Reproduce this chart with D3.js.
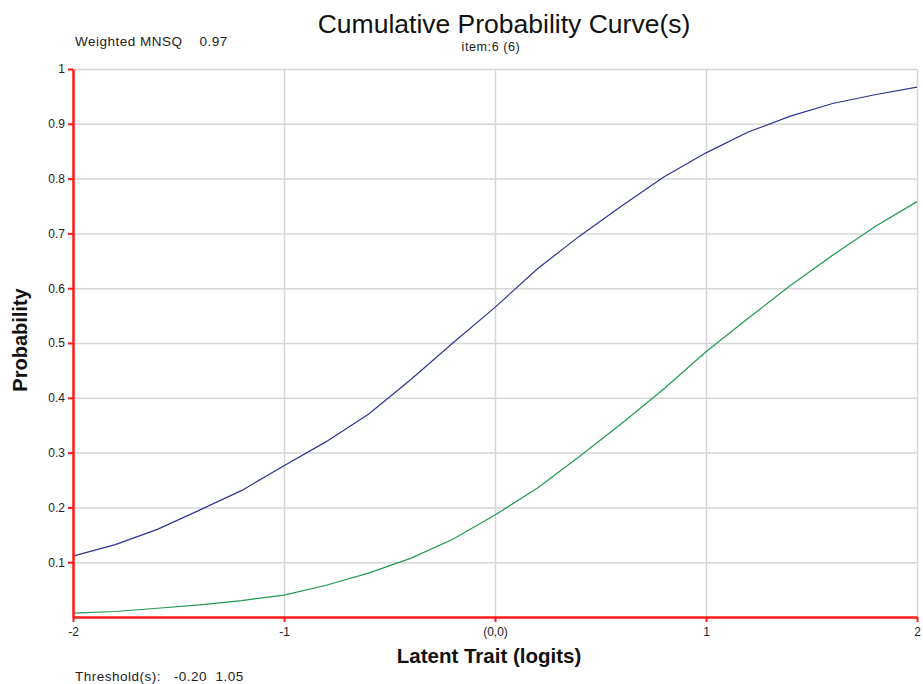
<!DOCTYPE html>
<html>
<head>
<meta charset="utf-8">
<script src="https://cdn.jsdelivr.net/npm/d3@7"></script>
<style>
  body { margin: 0; background: #fff; }
  svg { font-family: "Liberation Sans", Arial, sans-serif; }
</style>
</head>
<body>
<svg></svg>
<script>
var theta = [-2, -1.8, -1.6, -1.4, -1.2, -1, -0.8, -0.6, -0.4, -0.2, 0,
             0.2, 0.4, 0.6, 0.8, 1, 1.2, 1.4, 1.6, 1.8, 2];
var curve1 = [0.111, 0.132, 0.160, 0.195, 0.231, 0.276, 0.320, 0.370, 0.433, 0.500, 0.565,
              0.635, 0.695, 0.750, 0.803, 0.847, 0.885, 0.914, 0.937, 0.953, 0.967];
var curve2 = [0.007, 0.010, 0.016, 0.022, 0.030, 0.040, 0.058, 0.080, 0.107, 0.142, 0.186,
              0.235, 0.293, 0.353, 0.416, 0.484, 0.545, 0.605, 0.660, 0.712, 0.758];
var xTicks = [-2, -1, 0, 1, 2];
var yTicks = [0.1, 0.2, 0.3, 0.4, 0.5, 0.6, 0.7, 0.8, 0.9, 1];

var width = 923;
var height = 684;
var plotLeft = 73, plotRight = 917, plotTop = 69, plotBottom = 617;

var svg = d3.select('svg')
  .attr('width', width)
  .attr('height', height);

var xScale = d3.scaleLinear().domain([-2, 2]).range([plotLeft, plotRight]);
var yScale = d3.scaleLinear().domain([0, 1]).range([plotBottom, plotTop]);

// grid
svg.append('g')
  .attr('transform', `translate(0,${plotBottom})`)
  .call(d3.axisBottom(xScale).tickValues(xTicks).tickSize(-(plotBottom - plotTop)).tickFormat(''))
  .call(g => g.select('.domain').remove())
  .call(g => g.selectAll('line').attr('stroke', '#d6d6d6').attr('stroke-width', 1.5));

svg.append('g')
  .attr('transform', `translate(${plotLeft},0)`)
  .call(d3.axisLeft(yScale).tickValues(yTicks).tickSize(-(plotRight - plotLeft)).tickFormat(''))
  .call(g => g.select('.domain').remove())
  .call(g => g.selectAll('line').attr('stroke', '#d6d6d6').attr('stroke-width', 1.5));

// curves
var line = d3.line()
  .x((d, i) => xScale(theta[i]))
  .y(d => yScale(d));

svg.append('path')
  .attr('d', line(curve1))
  .attr('fill', 'none')
  .attr('stroke', '#2f3394')
  .attr('stroke-width', 1.2);

svg.append('path')
  .attr('d', line(curve2))
  .attr('fill', 'none')
  .attr('stroke', '#229950')
  .attr('stroke-width', 1.2);

// red axes
var yAxis = svg.append('g')
  .attr('transform', `translate(${plotLeft},0)`)
  .call(d3.axisLeft(yScale).tickValues(yTicks).tickSize(5).tickPadding(3).tickSizeOuter(0)
    .tickFormat(d => d3.format('~g')(d)));
yAxis.select('.domain').attr('stroke', '#ff1a1a').attr('stroke-width', 2.5);
yAxis.selectAll('line').attr('stroke', '#ff1a1a').attr('stroke-width', 2);
yAxis.selectAll('text').attr('font-size', 12).attr('fill', '#222')
  .attr('font-family', '"Liberation Sans", Arial, sans-serif');

var xAxis = svg.append('g')
  .attr('transform', `translate(0,${plotBottom})`)
  .call(d3.axisBottom(xScale).tickValues(xTicks).tickSize(5).tickPadding(5).tickSizeOuter(0)
    .tickFormat(d => d === 0 ? '(0,0)' : d));
xAxis.select('.domain').attr('stroke', '#ff1a1a').attr('stroke-width', 2.5);
xAxis.selectAll('line').attr('stroke', '#ff1a1a').attr('stroke-width', 2);
xAxis.selectAll('text').attr('font-size', 12).attr('fill', '#222')
  .attr('font-family', '"Liberation Sans", Arial, sans-serif');

// texts
svg.append('text')
  .attr('x', 504).attr('y', 33)
  .attr('text-anchor', 'middle')
  .attr('font-size', 26.5)
  .attr('fill', '#111')
  .text('Cumulative Probability Curve(s)');

svg.append('text')
  .attr('x', 491).attr('y', 51)
  .attr('text-anchor', 'middle')
  .attr('font-size', 12.5)
  .attr('letter-spacing', 0.6)
  .attr('fill', '#222')
  .text('item:6 (6)');

svg.append('text')
  .attr('x', 75).attr('y', 46)
  .attr('font-size', 13.5)
  .attr('letter-spacing', 0.5)
  .attr('fill', '#222')
  .attr('xml:space', 'preserve')
  .text('Weighted MNSQ    0.97');

svg.append('text')
  .attr('x', 489).attr('y', 663)
  .attr('text-anchor', 'middle')
  .attr('font-size', 20.5)
  .attr('font-weight', 'bold')
  .attr('fill', '#111')
  .text('Latent Trait (logits)');

svg.append('text')
  .attr('transform', 'translate(27,340) rotate(-90)')
  .attr('text-anchor', 'middle')
  .attr('font-size', 20)
  .attr('font-weight', 'bold')
  .attr('fill', '#111')
  .text('Probability');

svg.append('text')
  .attr('x', 75).attr('y', 681)
  .attr('font-size', 13.5)
  .attr('letter-spacing', 0.5)
  .attr('fill', '#222')
  .attr('xml:space', 'preserve')
  .text('Threshold(s):   -0.20  1.05');
</script>
</body>
</html>
